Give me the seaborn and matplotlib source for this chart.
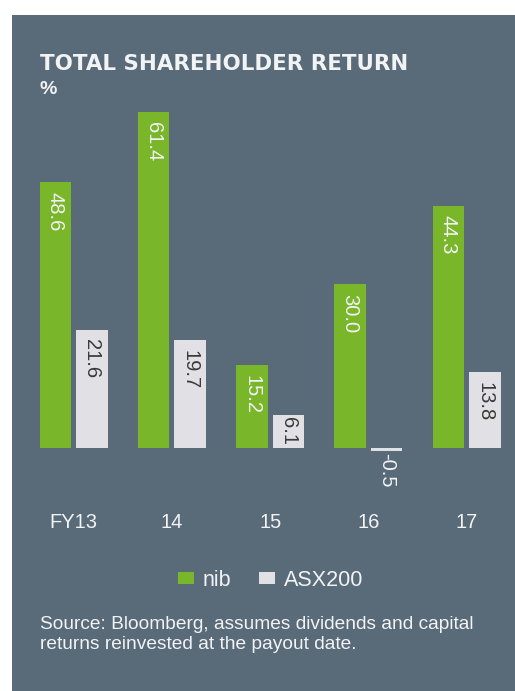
import matplotlib
matplotlib.use("Agg")
import matplotlib.pyplot as plt
from matplotlib.patches import Rectangle
import seaborn as sns
import pandas as pd

# ---- data ----
years = ["FY13", "14", "15", "16", "17"]
nib_values = [48.6, 61.4, 15.2, 30.0, 44.3]
asx_values = [21.6, 19.7, 6.1, -0.5, 13.8]
series_names = ["nib", "ASX200"]
title_text = "TOTAL SHAREHOLDER RETURN"
unit_text = "%"
source_text = ("Source: Bloomberg, assumes dividends and capital\n"
               "returns reinvested at the payout date.")

# ---- style ----
BG = "#596a79"
GREEN = "#79b62a"
GREY = "#e1e1e5"
LIGHT = "#f2f3f4"
DARK = "#3a3a3a"

sns.set_style("white")
plt.rcParams["font.family"] = ["Liberation Sans", "DejaVu Sans"]

W, H = 515, 691
fig = plt.figure(figsize=(W / 100, H / 100), dpi=100, facecolor="white")
fig.add_artist(Rectangle((12 / W, 0), 1, (H - 15) / H, transform=fig.transFigure,
                         facecolor=BG, edgecolor="none", zorder=0))

ax = fig.add_axes([15 / W, (H - 500) / H, 500 / W, 400 / H])
ax.set_facecolor("none")

df = pd.DataFrame({
    "year": years * 2,
    "series": [series_names[0]] * len(years) + [series_names[1]] * len(years),
    "value": nib_values + asx_values,
})

sns.barplot(data=df, x="year", y="value", hue="series", order=years,
            hue_order=series_names, palette=[GREEN, GREY], width=0.743,
            gap=0.14, saturation=1, linewidth=0, edgecolor="none",
            ax=ax, legend=True)

ax.set_xlim(-0.598, 4.493)
ax.set_ylim(-9.5, 63.58)
for s in ax.spines.values():
    s.set_visible(False)
ax.set_yticks([])
ax.set_xlabel("")
ax.set_ylabel("")
ax.tick_params(axis="x", length=0, pad=9, labelsize=14.5, labelcolor=LIGHT)

# value labels, rotated, inside bar tops
fig.canvas.draw()
renderer = fig.canvas.get_renderer()
pt = 100 / 72.0
for container, col in zip(ax.containers, [LIGHT, DARK]):
    for bar, val in zip(container, container.datavalues):
        xc = bar.get_x() + bar.get_width() / 2
        if val >= 0:
            t = ax.annotate(f"{val:.1f}", (xc, val), xytext=(0, -7),
                            textcoords="offset points", rotation=270,
                            ha="center", va="top", fontsize=14.5, color=col)
            ext = t.get_window_extent(renderer)
            bar_px = abs(ax.transData.transform((0, val))[1]
                         - ax.transData.transform((0, 0))[1])
            if ext.height + 7 * pt > bar_px - 2:
                off = max((bar_px - ext.height) / 2, 1) / pt
                t.xyann = (0, -off)
        else:
            ax.annotate(f"{val:.1f}", (xc, val), xytext=(0, -1.5),
                        textcoords="offset points", rotation=270,
                        ha="center", va="top", fontsize=14.5, color=LIGHT)

handles, labels = ax.get_legend_handles_labels()
ax.get_legend().remove()
fig.legend(handles, labels, loc="center", bbox_to_anchor=(270.5 / W, 1 - 580 / H),
           ncol=2, frameon=False, fontsize=15.5, labelcolor=LIGHT,
           handlelength=0.75, handleheight=0.5, handletextpad=0.4,
           columnspacing=1.3, borderpad=0, borderaxespad=0)

fig.text(40 / W, 1 - 54 / H, title_text, fontsize=15.4, fontweight="bold",
         color=LIGHT, family="DejaVu Sans", ha="left", va="top")
fig.text(40 / W, 1 - 81 / H, unit_text, fontsize=14, fontweight="bold",
         color=LIGHT, ha="left", va="top")
fig.text(40 / W, 1 - 616 / H, source_text, fontsize=13.8, color=LIGHT,
         ha="left", va="top", linespacing=1.2)

fig.savefig("out.png", dpi=100, facecolor="white")
